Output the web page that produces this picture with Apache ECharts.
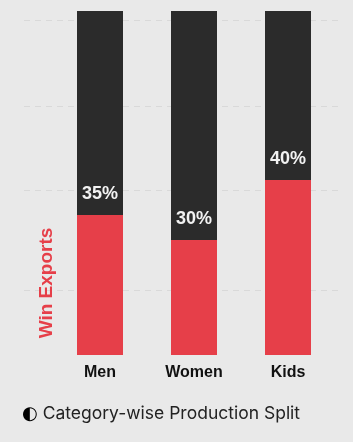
<!DOCTYPE html>
<html>
<head>
<meta charset="utf-8">
<script src="https://cdn.jsdelivr.net/npm/echarts@6/dist/echarts.min.js"></script>
<style>
html,body{margin:0;padding:0;background:#e9e9e9;}
#c{width:353px;height:442px;}
</style>
</head>
<body>
<div id="c"></div>
<script>
var categories = ['Men', 'Women', 'Kids'];
var exportValues = [40.7, 33.4, 50.9];
var otherValues = [59.3, 66.6, 49.1];
var shareLabels = ['35%', '30%', '40%'];
var gridValues = [18.9, 48.0, 72.4, 97.4];
var axisTitle = 'Win Exports';
var footerText = 'Category-wise Production Split';

var chart = echarts.init(document.getElementById('c'), null, {renderer: 'canvas'});
chart.setOption({
  backgroundColor: '#e9e9e9',
  animation: false,
  grid: [
    {left: 53, right: 18, top: 11, bottom: 87},
    {left: 24, right: 10, top: 11, bottom: 87}
  ],
  xAxis: [
    {
      type: 'category', gridIndex: 0, data: categories,
      axisLine: {show: false}, axisTick: {show: false},
      axisLabel: {margin: 10, color: '#111', fontWeight: 'bold', fontSize: 16, fontFamily: 'Liberation Sans'}
    },
    {type: 'value', gridIndex: 1, min: 0, max: 1, show: false}
  ],
  yAxis: [
    {type: 'value', gridIndex: 0, min: 0, max: 100, show: false, splitLine: {show: false}},
    {type: 'value', gridIndex: 1, min: 0, max: 100, show: false, splitLine: {show: false}}
  ],
  title: {
    left: 17, top: 400,
    text: '{i|\u25D0} ' + footerText,
    textStyle: {
      fontFamily: 'Inter', fontSize: 17.5, fontWeight: 'normal', color: '#222',
      rich: {i: {fontFamily: 'DejaVu Sans', fontSize: 18, color: '#000'}}
    }
  },
  graphic: [{
    type: 'text', x: 47, y: 283, rotation: Math.PI / 2, z: 20,
    style: {text: axisTitle, fill: '#e63f49', font: 'bold 19px "Liberation Sans"', align: 'center', verticalAlign: 'middle'}
  }],
  series: [
    {
      type: 'line', xAxisIndex: 1, yAxisIndex: 1, data: [], z: 0,
      markLine: {
        z: 0, silent: true, symbol: 'none', label: {show: false},
        lineStyle: {color: '#d9d9d9', type: [6, 5], width: 1},
        data: gridValues.map(function (v) { return {yAxis: v}; })
      }
    },
    {
      type: 'bar', stack: 'a', data: exportValues, barWidth: 46, z: 3,
      itemStyle: {color: '#e63f49'},
      label: {
        show: true, position: 'top', distance: 12,
        formatter: function (p) { return shareLabels[p.dataIndex]; },
        color: '#f2f2f2', fontSize: 18, fontWeight: 'bold', fontFamily: 'Liberation Sans'
      }
    },
    {
      type: 'bar', stack: 'a', data: otherValues, barWidth: 46, z: 2,
      itemStyle: {color: '#2b2b2b'}
    }
  ]
});
</script>
</body>
</html>
